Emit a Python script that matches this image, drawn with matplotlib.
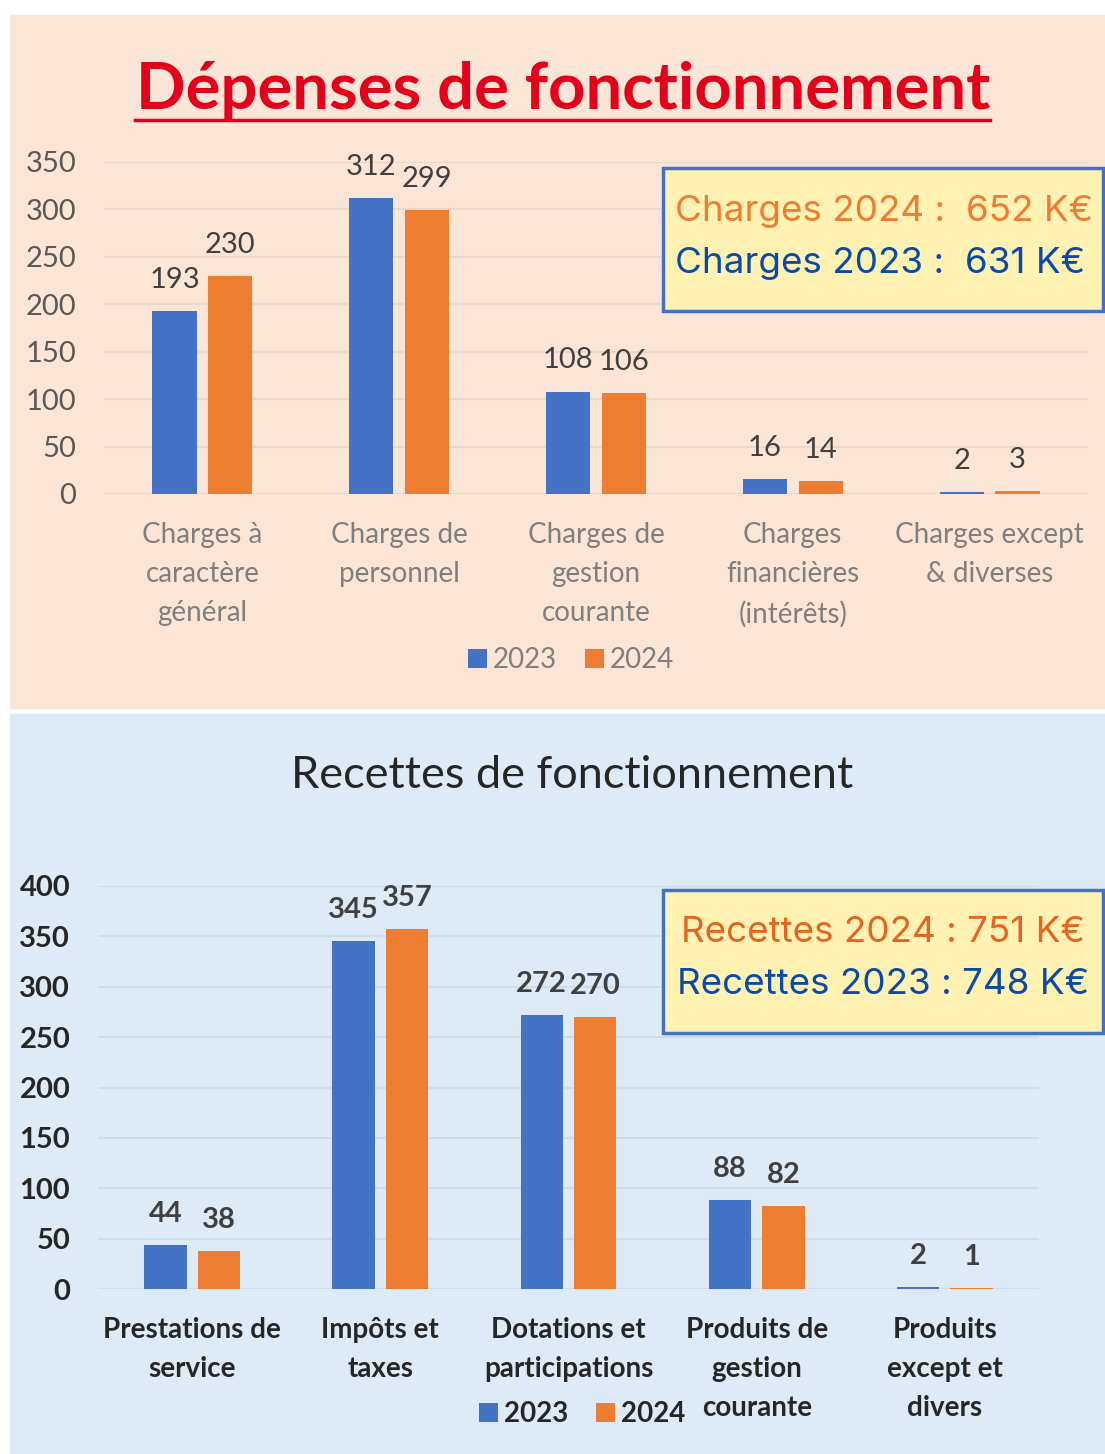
import matplotlib.pyplot as plt
import matplotlib.patches as mpatches
from matplotlib.lines import Line2D
import numpy as np

# ---- data ----
dep_categories = ["Charges à\ncaractère\ngénéral", "Charges de\npersonnel",
                  "Charges de\ngestion\ncourante", "Charges\nfinancières\n(intérêts)",
                  "Charges except\n& diverses"]
dep_2023 = [193, 312, 108, 16, 2]
dep_2024 = [230, 299, 106, 14, 3]

rec_categories = ["Prestations de\nservice", "Impôts et\ntaxes",
                  "Dotations et\nparticipations", "Produits de\ngestion\ncourante",
                  "Produits\nexcept et\ndivers"]
rec_2023 = [44, 345, 272, 88, 2]
rec_2024 = [38, 357, 270, 82, 1]

dep_box = ["Charges 2024 :  652 K€", "Charges 2023 :  631 K€"]
rec_box = ["Recettes 2024 : 751 K€", "Recettes 2023 : 748 K€"]
years = ["2023", "2024"]

BLUE = "#4472c4"
ORANGE = "#ed7d31"
W, H = 1105, 1454

fig = plt.figure(figsize=(W / 100, H / 100), dpi=100)
fig.patch.set_facecolor("white")
plt.rcParams['font.family'] = ['Lato', 'DejaVu Sans']


def px_axes(left, top, right, bottom):
    return fig.add_axes([left / W, 1 - bottom / H, (right - left) / W, (bottom - top) / H])


def fx(x):
    return x / W


def fy(y):
    return 1 - y / H


# panel backgrounds
fig.patches.append(mpatches.Rectangle((fx(10), fy(708)), fx(1095), (708 - 15) / H,
                                      transform=fig.transFigure, color="#fbe5d6", zorder=-2))
fig.patches.append(mpatches.Rectangle((fx(10), fy(1454)), fx(1095), (1454 - 714) / H,
                                      transform=fig.transFigure, color="#deebf7", zorder=-2))


def draw_chart(ax, cats, v23, v24, ymax, grid_col, tick_col, lab_col, val_col, bold, cat_size):
    x = np.arange(len(cats))
    w = 0.225
    b1 = ax.bar(x - 0.142, v23, w, color=BLUE, label=years[0], zorder=3)
    b2 = ax.bar(x + 0.142, v24, w, color=ORANGE, label=years[1], zorder=3)
    for bars in (b1, b2):
        for bar in bars:
            ax.annotate(f"{int(bar.get_height())}",
                        xy=(bar.get_x() + bar.get_width() / 2, bar.get_height()),
                        xytext=(0, 13), textcoords="offset points",
                        ha='center', va='bottom', fontsize=21, color=val_col,
                        fontweight='bold' if bold else 'normal')
    ax.set_xlim(-0.5, len(cats) - 0.5)
    ax.set_ylim(0, ymax)
    ax.set_yticks(np.arange(0, ymax + 1, 50))
    ax.yaxis.grid(True, color=grid_col, linewidth=1.5, zorder=0)
    ax.set_axisbelow(True)
    ax.set_facecolor("none")
    for s in ax.spines.values():
        s.set_visible(False)
    ax.tick_params(axis='y', length=0, pad=20, labelsize=21, labelcolor=tick_col)
    ax.tick_params(axis='x', length=0, pad=20)
    ax.set_xticks(x)
    ax.set_xticklabels(cats, fontsize=cat_size, color=lab_col, linespacing=1.62,
                       fontweight='bold' if bold else 'normal', va='top')
    if bold:
        for t in ax.get_yticklabels():
            t.set_fontweight('bold')
    return b1, b2


# ---- top chart ----
ax1 = px_axes(104, 162, 1088, 494)
h1 = draw_chart(ax1, dep_categories, dep_2023, dep_2024, 350, "#ead8cb",
                "#595959", "#7f7f7f", "#404040", False, 20)
fig.text(fx(563), fy(90), "Dépenses de fonctionnement", ha='center', va='center',
         fontsize=47, fontweight='bold', color="#e3001b")
fig.add_artist(Line2D([fx(135), fx(990)], [fy(120), fy(120)], color="#e3001b",
                      linewidth=2.5, transform=fig.transFigure))
leg1 = fig.legend(h1, years, loc='center', bbox_to_anchor=(fx(571), fy(660)), ncol=2,
                  frameon=False, fontsize=20, handlelength=0.7, handleheight=0.7,
                  handletextpad=0.2, columnspacing=1.0)
for t in leg1.get_texts():
    t.set_color("#7f7f7f")

# ---- bottom chart ----
ax2 = px_axes(98, 886, 1039, 1289)
h2 = draw_chart(ax2, rec_categories, rec_2023, rec_2024, 400, "#cfdcea",
                "#262626", "#262626", "#404040", True, 20)
fig.text(fx(572), fy(775), "Recettes de fonctionnement", ha='center', va='center',
         fontsize=32.5, color="#262626")
leg2 = fig.legend(h2, years, loc='center', bbox_to_anchor=(fx(582), fy(1414)), ncol=2,
                  frameon=False, handlelength=0.7, handleheight=0.7,
                  handletextpad=0.2, columnspacing=1.0, prop={'weight': 'bold', 'size': 20})
for t in leg2.get_texts():
    t.set_color("#262626")


# ---- summary boxes ----
def summary_box(top, lines, c_top, ha):
    fig.patches.append(mpatches.Rectangle((fx(663), fy(top + 143)), fx(440), 143 / H,
                                          transform=fig.transFigure, facecolor="#fff2b3",
                                          edgecolor="#4472c4", linewidth=2.5, zorder=5))
    xpos = fx(675) if ha == 'left' else fx(883)
    fig.text(xpos, fy(top + 43), lines[0], ha=ha, va='center', fontsize=26.5,
             color=c_top, family=['Inter', 'DejaVu Sans'], zorder=6)
    fig.text(xpos, fy(top + 95), lines[1], ha=ha, va='center', fontsize=26.5,
             color="#0b4aa8", family=['Inter', 'DejaVu Sans'], zorder=6)


summary_box(168, dep_box, "#ef7d31", 'left')
summary_box(890, rec_box, "#e5641f", 'center')

fig.savefig("out.png", dpi=100)
